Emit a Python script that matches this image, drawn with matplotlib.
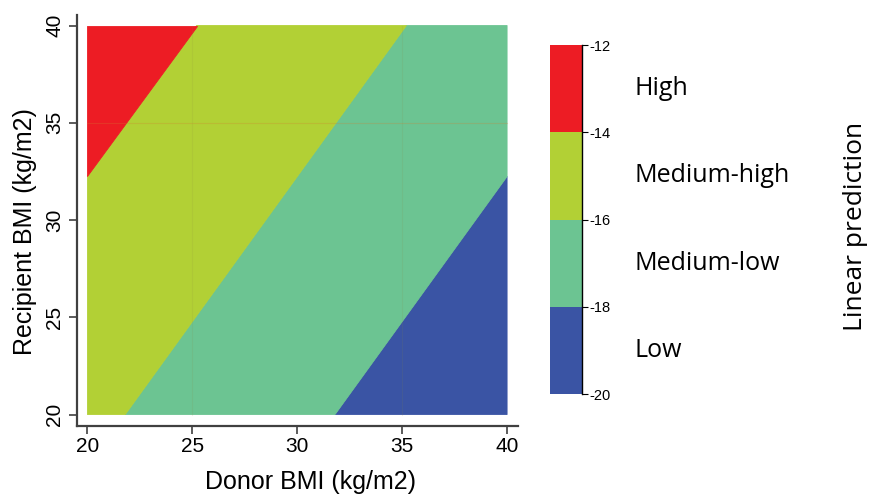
import numpy as np
import matplotlib.pyplot as plt
from matplotlib.colors import ListedColormap, BoundaryNorm
from matplotlib.transforms import blended_transform_factory

plt.rcParams['axes.unicode_minus'] = False
plt.rcParams['font.family'] = ['Liberation Sans', 'DejaVu Sans']

# Corner values of the (planar) linear prediction surface
donor_bmi = [20, 40]
recipient_bmi = [20, 40]
prediction = [[-15.64, -19.64],   # recipient 20
              [-12.96, -16.96]]   # recipient 40

levels = [-20, -18, -16, -14, -12]
band_colors = ['#3a54a4', '#6cc492', '#b2d035', '#ed1c24']
band_labels = ['Low', 'Medium-low', 'Medium-high', 'High']
xticks = [20, 25, 30, 35, 40]
yticks = [20, 25, 30, 35, 40]

fig = plt.figure(figsize=(8.69, 4.95), dpi=100)
ax = fig.add_axes([0.0886, 0.139, 0.507, 0.831])

cmap = ListedColormap(band_colors)
norm = BoundaryNorm(levels, cmap.N)
X, Y = np.meshgrid(donor_bmi, recipient_bmi)
cs = ax.contourf(X, Y, np.array(prediction), levels=levels, cmap=cmap, norm=norm, antialiased=True)
cs.set_edgecolor('face')
cs.set_linewidth(0.6)

# faint grid lines that show through the fill
for v in [25, 35]:
    ax.plot([v, v], [20, 40], color='#8a8a40', lw=0.8, alpha=0.12, zorder=3)
ax.plot([20, 40], [35, 35], color='#d08030', lw=0.8, alpha=0.25, zorder=3)

ax.set_xlim(19.5, 40.5)
ax.set_ylim(19.4, 40.55)
ax.set_xticks(xticks)
ax.set_yticks(yticks)
for s in ['top', 'right']:
    ax.spines[s].set_visible(False)
for s in ['left', 'bottom']:
    ax.spines[s].set_color('#404040')
    ax.spines[s].set_linewidth(1.6)
ax.tick_params(colors='#404040', width=1.2, length=6, labelsize=15, labelcolor='black')
ax.tick_params(axis='x', pad=2)
ax.tick_params(axis='y', pad=3)
for lab in ax.get_yticklabels():
    lab.set_rotation(90)
    lab.set_va('center')
ax.set_xlabel('Donor BMI (kg/m2)', fontsize=18)
ax.set_ylabel('Recipient BMI (kg/m2)', fontsize=18)
ax.xaxis.set_label_coords(0.53, -0.106)
ax.yaxis.set_label_coords(-0.09, 0.474)

# colour bar
cax = fig.add_axes([0.633, 0.204, 0.037, 0.705])
cbar = fig.colorbar(cs, cax=cax, ticks=levels)
cbar.outline.set_visible(False)
cax.plot([1, 1], [0, 1], transform=cax.transAxes, color='black', lw=1, clip_on=False)
cax.tick_params(length=4, width=0.8, labelsize=10.5, pad=1)
cax.set_yticklabels([str(v) for v in levels])

trans = blended_transform_factory(cax.transAxes, cax.transData)
for i, lab in enumerate(band_labels):
    mid = (levels[i] + levels[i + 1]) / 2
    cax.text(2.62, mid, lab, transform=trans, va='center', ha='left',
             fontsize=18, family='Open Sans')

fig.text(0.984, 0.543, 'Linear prediction', rotation=90, va='center', ha='center',
         fontsize=19, family='Open Sans')

fig.savefig('out.png', dpi=100)
